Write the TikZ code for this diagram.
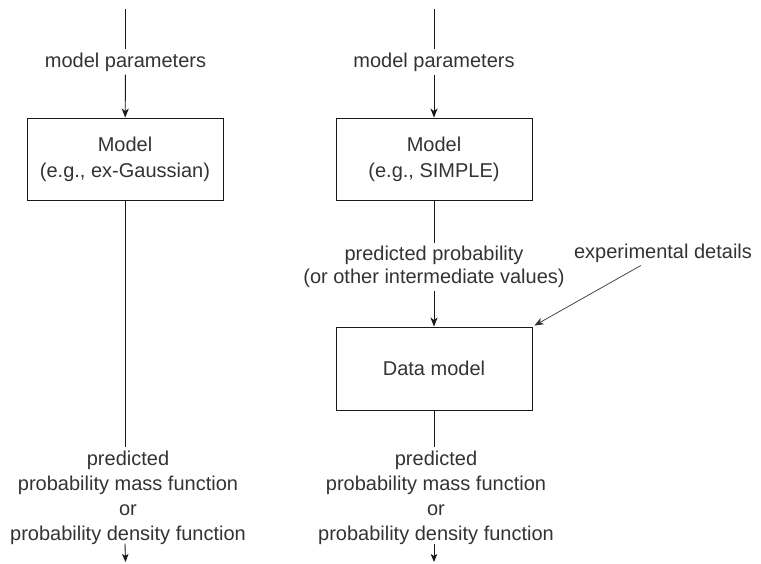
\documentclass[tikz,border=0pt]{standalone}
\usepackage{fontspec}
\setmainfont{Liberation Sans}
\usetikzlibrary{arrows.meta}
\begin{document}
\begin{tikzpicture}[x=1pt,y=-1pt,
  txt/.style={font=\fontsize{20}{25}\selectfont, text=black!80, align=center, inner sep=3pt},
  box/.style={draw=black!90, line width=0.9pt, minimum width=196pt, minimum height=82pt, font=\fontsize{20}{26}\selectfont, text=black!80, align=center},
  conn/.style={draw=black!90, line width=0.9pt},
  arr/.style={conn, -{Stealth[length=9pt,width=7pt,inset=2.5pt]}},
  sarr/.style={conn, -{Stealth[length=8pt,width=6.5pt,inset=2pt]}}]
\useasboundingbox (0,0) rectangle (761,563);
% left column
\coordinate (ltop) at (125.5,9);
\node[txt] (lmp) at (125.5,62) {model parameters};
\node[box] (lmodel) at (125,159) {Model\\(e.g., ex-Gaussian)};
\node[txt] (lout) at (128,497.5) {predicted\\probability mass function\\or\\probability density function};
\coordinate (lend) at (125.5,562);
\draw[conn] (ltop) -- (lmp);
\draw[arr] (lmp) -- (lmodel);
\draw[conn] (lmodel.south) -- (lmodel.south |- lout.north);
\draw[sarr] ([yshift=4pt]lmodel.south |- lout.south) -- (lend);
% right column
\coordinate (rtop) at (434,9);
\node[txt] (rmp) at (434,62) {model parameters};
\node[box] (rmodel) at (434,159) {Model\\(e.g., SIMPLE)};
\node[txt, font=\fontsize{20}{23}\selectfont] (pp) at (434,267) {predicted probability\\(or other intermediate values)};
\node[box, minimum height=83pt] (dm) at (434,368.5) {Data model};
\node[txt] (ed) at (663,253) {experimental details};
\node[txt] (rout) at (436,497.5) {predicted\\probability mass function\\or\\probability density function};
\coordinate (rend) at (434,562);
\draw[conn] (rtop) -- (rmp);
\draw[arr] (rmp) -- (rmodel);
\draw[conn] (rmodel.south) -- (pp);
\draw[arr] (pp) -- (dm);
\draw[arr, line width=0.7pt, draw=black!80] (ed) -- ([shift={(2,-1)}]dm.north east);
\draw[conn] (dm.south) -- (dm.south |- rout.north);
\draw[sarr] ([yshift=4pt]dm.south |- rout.south) -- (rend);
\end{tikzpicture}
\end{document}
